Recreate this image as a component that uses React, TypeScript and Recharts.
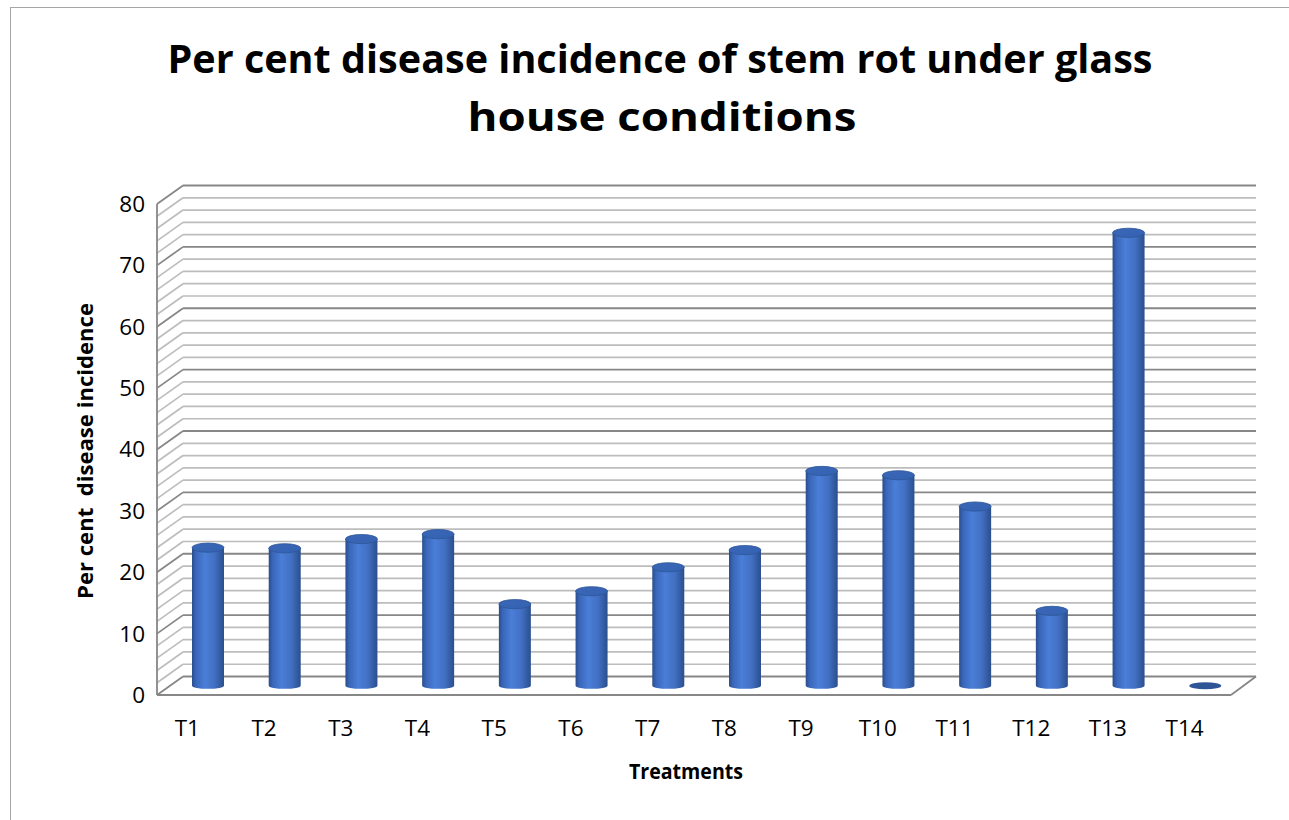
import React from "react"
import { BarChart, Bar, XAxis, YAxis, CartesianGrid } from "recharts"

const treatments = ["T1", "T2", "T3", "T4", "T5", "T6", "T7", "T8", "T9", "T10", "T11", "T12", "T13", "T14"]
const incidence = [22.5, 22.4, 23.9, 24.7, 13.3, 15.4, 19.3, 22.1, 35.0, 34.3, 29.2, 12.2, 73.8, 0]
const yTicks = [0, 10, 20, 30, 40, 50, 60, 70, 80]
const minorValues = [2, 4, 6, 8, 12, 14, 16, 18, 22, 24, 26, 28, 32, 34, 36, 38, 42, 44, 46, 48, 52, 54, 56, 58, 62, 64, 66, 68, 72, 74, 76, 78]

const data = treatments.map((t, i) => ({ name: t, value: incidence[i] }))

// depth of the fake 3D box (back wall offset); bars sit half way in
const DX = 26
const DY = -18.5
const FONT = "'Open Sans', 'Noto Sans', sans-serif"

function WallLine(props: any, major: boolean) {
  const { x1, y1, x2 } = props
  const color = major ? "#878787" : "#bdbdbd"
  const sw = major ? 1.8 : 1.7
  const isFloor = major && props.index === 0
  return (
    <g key={`${major ? "maj" : "min"}-${props.index}`}>
      <line x1={x1} y1={y1} x2={x1 + DX} y2={y1 + DY} stroke={color} strokeWidth={sw} />
      <line x1={x1 + DX} y1={y1 + DY} x2={x2 + DX - 1} y2={y1 + DY} stroke={color} strokeWidth={sw} />
      {isFloor && <line x1={x2} y1={y1} x2={x2 + DX - 1} y2={y1 + DY} stroke={color} strokeWidth={sw} />}
    </g>
  )
}

function Cylinder(props: any) {
  const { x, y, width, height, index } = props
  const cx = x + width / 2 + DX / 2
  const rx = width / 2
  const top = y + DY / 2
  const bottom = y + height + DY / 2
  const gid = `cyl-${index}`
  const tid = `cyltop-${index}`
  if (!height || height < 1) {
    return <ellipse cx={cx} cy={bottom} rx={rx} ry={3.6} fill="#2f5597" />
  }
  const ry = 4.6
  return (
    <g>
      <defs>
        <linearGradient id={gid} x1="0" y1="0" x2="1" y2="0">
          <stop offset="0%" stopColor="#2a4d8c" />
          <stop offset="12%" stopColor="#3966b8" />
          <stop offset="40%" stopColor="#4a7ed8" />
          <stop offset="70%" stopColor="#4270c3" />
          <stop offset="100%" stopColor="#2b4f8e" />
        </linearGradient>
        <linearGradient id={tid} x1="0" y1="0" x2="1" y2="1">
          <stop offset="0%" stopColor="#3a67b6" />
          <stop offset="100%" stopColor="#3462b2" />
        </linearGradient>
      </defs>
      <path
        d={`M${cx - rx},${top} L${cx - rx},${bottom} A${rx},${ry - 1.5} 0 0 0 ${cx + rx},${bottom} L${cx + rx},${top} Z`}
        fill={`url(#${gid})`}
      />
      <ellipse cx={cx} cy={top} rx={rx} ry={ry} fill={`url(#${tid})`} stroke="#2f5597" strokeWidth={0.8} />
    </g>
  )
}

export default function App() {
  return (
    <div style={{ position: "absolute", left: 0, top: 0, width: 1289, height: 820, overflow: "hidden", background: "#fff", fontFamily: FONT }}>
      <div style={{ position: "absolute", left: 10, top: 7, width: 1300, height: 840, border: "1px solid #a6a6a6" }} />
      <div style={{ position: "absolute", left: 0, top: 0 }}>
        <BarChart width={1289} height={820} data={data} margin={{ top: 204, right: 58, bottom: 85, left: 97 }}>
          <CartesianGrid vertical={false} horizontalValues={minorValues} horizontal={(p: any) => WallLine(p, false)} />
          <CartesianGrid vertical={false} horizontalValues={yTicks} horizontal={(p: any) => WallLine(p, true)} />
          <XAxis
            dataKey="name"
            height={40}
            axisLine={{ stroke: "#878787", strokeWidth: 1.8 }}
            tickLine={false}
            tickMargin={19}
            interval={0}
            tick={{ fill: "#000", fontSize: 22.5, fontFamily: FONT, dx: -8 }}
          />
          <YAxis
            width={60}
            domain={[0, 80]}
            ticks={yTicks}
            interval={0}
            axisLine={{ stroke: "#878787", strokeWidth: 1.8 }}
            tickLine={false}
            tickMargin={6}
            tick={{ fill: "#000", fontSize: 22.5, fontFamily: FONT }}
          />
          <Bar dataKey="value" barSize={32} shape={Cylinder} isAnimationActive={false} />
        </BarChart>
      </div>
      <svg width={1289} height={820} style={{ position: "absolute", left: 0, top: 0, pointerEvents: "none" }}>
        <text x={660} y={73} textAnchor="middle" fontSize={39} fontWeight={700} fontFamily={FONT} textLength={985} lengthAdjust="spacingAndGlyphs">
          Per cent disease incidence of stem rot under glass
        </text>
        <text x={662} y={131} textAnchor="middle" fontSize={39} fontWeight={700} fontFamily={FONT} textLength={389} lengthAdjust="spacingAndGlyphs">
          house conditions
        </text>
        <text x={686} y={779} textAnchor="middle" fontSize={21} fontWeight={700} fontFamily={FONT} textLength={114} lengthAdjust="spacingAndGlyphs">
          Treatments
        </text>
        <text
          transform="translate(93,451) rotate(-90)"
          textAnchor="middle"
          fontSize={21}
          fontWeight={700}
          fontFamily={FONT}
          textLength={296}
          lengthAdjust="spacingAndGlyphs"
          style={{ whiteSpace: "pre" }}
        >
          {"Per cent  disease incidence"}
        </text>
      </svg>
    </div>
  )
}
